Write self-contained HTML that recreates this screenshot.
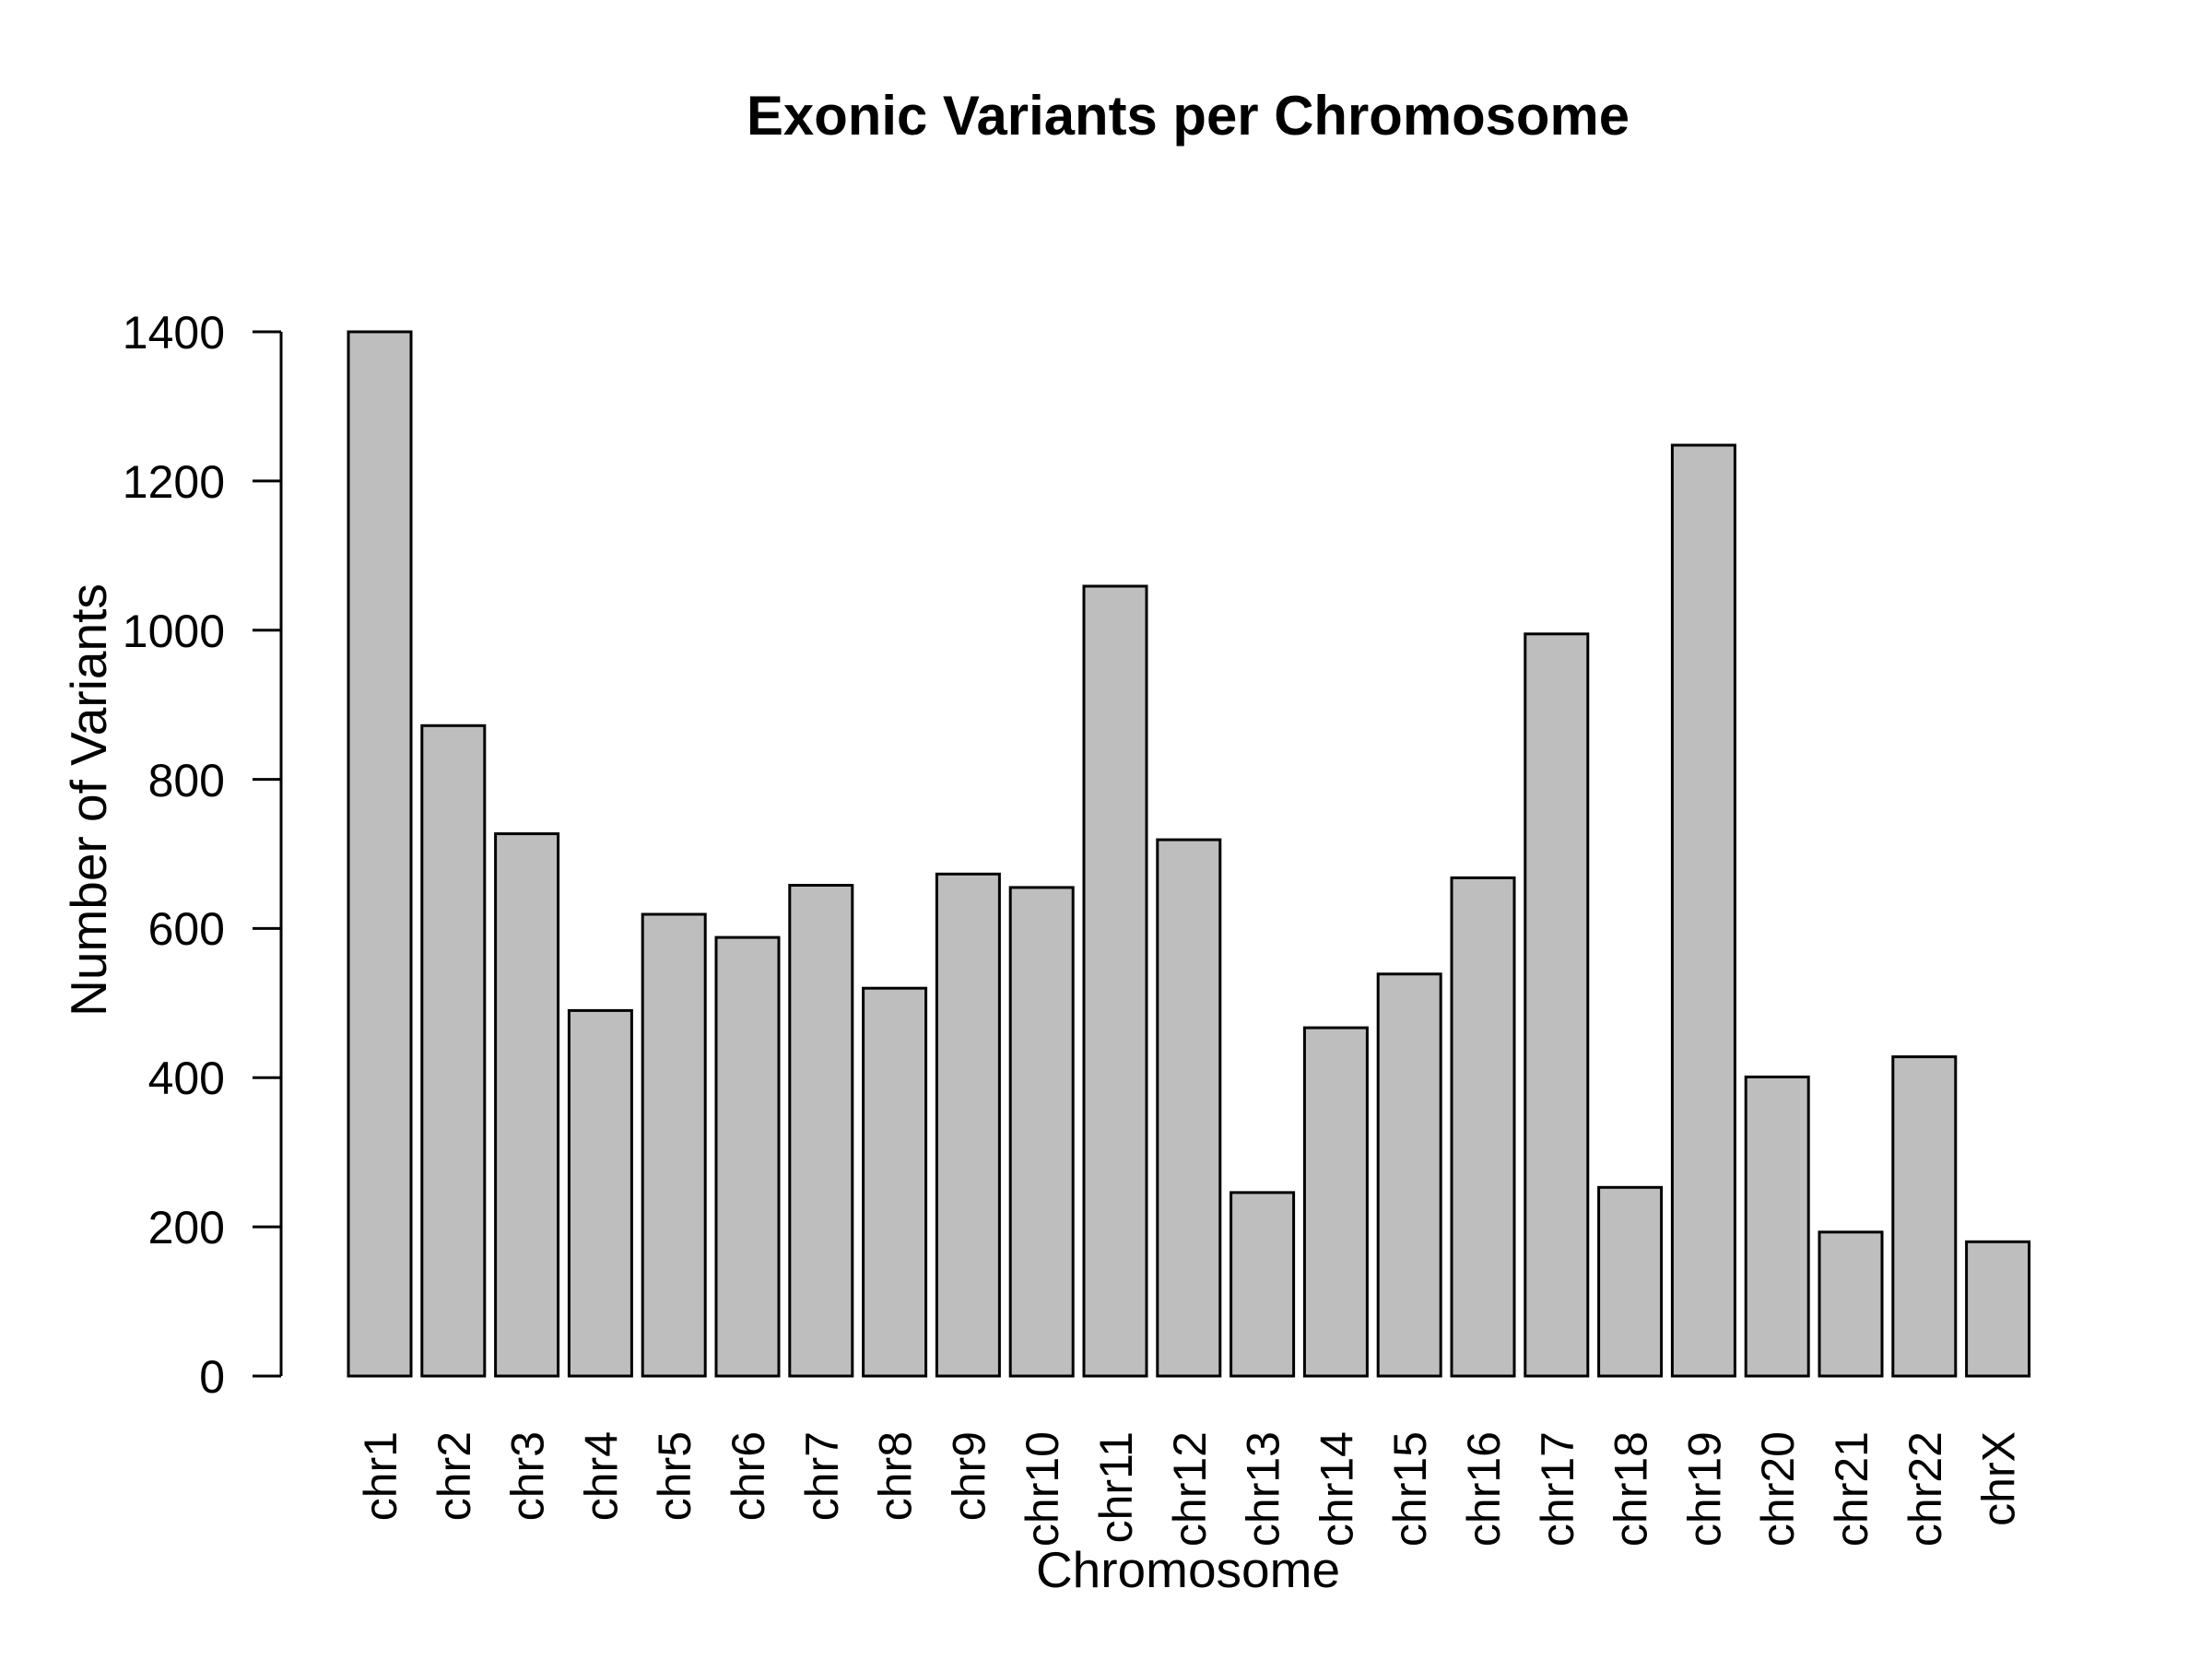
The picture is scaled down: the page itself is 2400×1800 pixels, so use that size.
<!DOCTYPE html>
<html><head><meta charset="utf-8"><style>
html,body{margin:0;padding:0;background:#fff;}
svg{display:block;font-family:"Liberation Sans",Arial,sans-serif;}
</style></head><body>
<svg width="2400" height="1800" viewBox="0 0 2400 1800" xmlns="http://www.w3.org/2000/svg">
<rect width="2400" height="1800" fill="#fff"/>
<text x="1289" y="146" font-size="60" font-weight="bold" text-anchor="middle" textLength="958" lengthAdjust="spacingAndGlyphs">Exonic Variants per Chromosome</text>
<g stroke="#000" stroke-width="3" fill="#bebebe">
<rect x="378" y="360" width="68" height="1133"/>
<rect x="457.8" y="787.3" width="68" height="705.7"/>
<rect x="537.6" y="904.6" width="68" height="588.4"/>
<rect x="617.4" y="1096.4" width="68" height="396.6"/>
<rect x="697.2" y="992" width="68" height="501"/>
<rect x="777" y="1017.1" width="68" height="475.9"/>
<rect x="856.8" y="960.5" width="68" height="532.5"/>
<rect x="936.6" y="1072.2" width="68" height="420.8"/>
<rect x="1016.4" y="948.3" width="68" height="544.7"/>
<rect x="1096.2" y="962.9" width="68" height="530.1"/>
<rect x="1176" y="636" width="68" height="857"/>
<rect x="1255.8" y="911.1" width="68" height="581.9"/>
<rect x="1335.6" y="1293.9" width="68" height="199.1"/>
<rect x="1415.4" y="1115.1" width="68" height="377.9"/>
<rect x="1495.2" y="1056.8" width="68" height="436.2"/>
<rect x="1575" y="952.4" width="68" height="540.6"/>
<rect x="1654.8" y="687.8" width="68" height="805.2"/>
<rect x="1734.6" y="1288.3" width="68" height="204.7"/>
<rect x="1814.4" y="483" width="68" height="1010"/>
<rect x="1894.2" y="1168.5" width="68" height="324.5"/>
<rect x="1974" y="1336.8" width="68" height="156.2"/>
<rect x="2053.8" y="1146.6" width="68" height="346.4"/>
<rect x="2133.6" y="1347.3" width="68" height="145.7"/>
</g>
<g stroke="#000" stroke-width="3" fill="none">
<line x1="305" y1="360" x2="305" y2="1493"/>
<line x1="274" y1="360" x2="305" y2="360"/>
<line x1="274" y1="521.9" x2="305" y2="521.9"/>
<line x1="274" y1="683.7" x2="305" y2="683.7"/>
<line x1="274" y1="845.6" x2="305" y2="845.6"/>
<line x1="274" y1="1007.4" x2="305" y2="1007.4"/>
<line x1="274" y1="1169.3" x2="305" y2="1169.3"/>
<line x1="274" y1="1331.1" x2="305" y2="1331.1"/>
<line x1="274" y1="1493" x2="305" y2="1493"/>
</g>
<g font-size="50" text-anchor="end">
<text x="244" y="378">1400</text>
<text x="244" y="540">1200</text>
<text x="244" y="702">1000</text>
<text x="244" y="864">800</text>
<text x="244" y="1025">600</text>
<text x="244" y="1187">400</text>
<text x="244" y="1349">200</text>
<text x="244" y="1511">0</text>
</g>
<text transform="translate(115,868) rotate(-90)" font-size="55" text-anchor="middle">Number of Variants</text>
<text x="1289" y="1722" font-size="55" text-anchor="middle">Chromosome</text>
<g font-size="50" text-anchor="end">
<text transform="translate(430,1553) rotate(-90)">chr1</text>
<text transform="translate(509.8,1553) rotate(-90)">chr2</text>
<text transform="translate(589.6,1553) rotate(-90)">chr3</text>
<text transform="translate(669.4,1553) rotate(-90)">chr4</text>
<text transform="translate(749.2,1553) rotate(-90)">chr5</text>
<text transform="translate(829,1553) rotate(-90)">chr6</text>
<text transform="translate(908.8,1553) rotate(-90)">chr7</text>
<text transform="translate(988.6,1553) rotate(-90)">chr8</text>
<text transform="translate(1068.4,1553) rotate(-90)">chr9</text>
<text transform="translate(1148.2,1553) rotate(-90)">chr10</text>
<text transform="translate(1228,1553) rotate(-90)">chr11</text>
<text transform="translate(1307.8,1553) rotate(-90)">chr12</text>
<text transform="translate(1387.6,1553) rotate(-90)">chr13</text>
<text transform="translate(1467.4,1553) rotate(-90)">chr14</text>
<text transform="translate(1547.2,1553) rotate(-90)">chr15</text>
<text transform="translate(1627,1553) rotate(-90)">chr16</text>
<text transform="translate(1706.8,1553) rotate(-90)">chr17</text>
<text transform="translate(1786.6,1553) rotate(-90)">chr18</text>
<text transform="translate(1866.4,1553) rotate(-90)">chr19</text>
<text transform="translate(1946.2,1553) rotate(-90)">chr20</text>
<text transform="translate(2026,1553) rotate(-90)">chr21</text>
<text transform="translate(2105.8,1553) rotate(-90)">chr22</text>
<text transform="translate(2185.6,1553) rotate(-90)">chrX</text>
</g>
</svg>
</body></html>
